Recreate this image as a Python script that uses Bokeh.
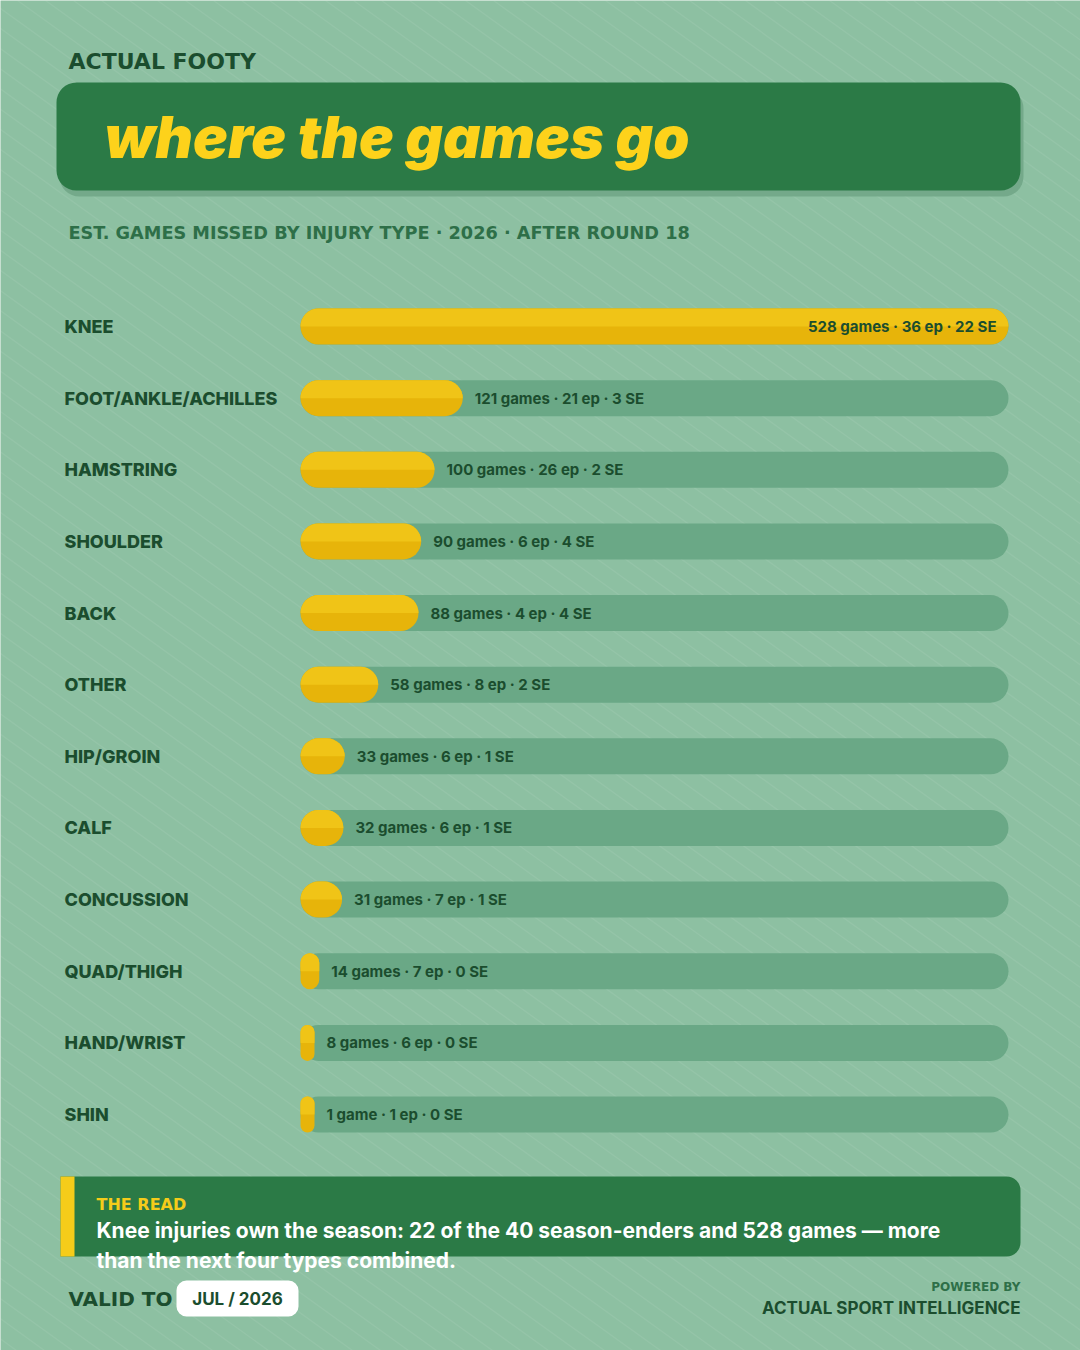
from bokeh.plotting import figure
from bokeh.models import Range1d, Label, ColumnDataSource
from bokeh.core.properties import value
from bokeh.embed import file_html
from bokeh.resources import INLINE

# ---- data -------------------------------------------------------------
injury_types = ["KNEE", "FOOT/ANKLE/ACHILLES", "HAMSTRING", "SHOULDER", "BACK",
                "OTHER", "HIP/GROIN", "CALF", "CONCUSSION", "QUAD/THIGH",
                "HAND/WRIST", "SHIN"]
games_missed = [528, 121, 100, 90, 88, 58, 33, 32, 31, 14, 8, 1]
episodes = [36, 21, 26, 6, 4, 8, 6, 6, 7, 7, 6, 1]
season_enders = [22, 3, 2, 4, 4, 2, 1, 1, 1, 0, 0, 0]

# ---- palette ----------------------------------------------------------
BG = "#8dc0a2"
STRIPE = "#ffffff"
DARK = "#1b4d2e"
MID = "#2e6f48"
BOX_GREEN = "#2b7a46"
SHADOW = "#74a98a"
TRACK = "#6aa886"
GOLD_TOP = "#f0c417"
GOLD_BOTTOM = "#e7b40a"
TITLE_YELLOW = "#fdd21b"
FONT = "Inter"
HEAVY = "Inter ExtraBold, Inter"
WIDE = "DejaVu Sans"   # wider face for the tracked-out caps

# ---- layout (page pixels) ---------------------------------------------
W, H = 1080, 1350
TRACK_LEFT, TRACK_RIGHT = 300, 1008
ROW0, ROW_STEP = 326, 71.64
BAR_PX = 36
MIN_BAR_PX = 14
LABEL_GAP_PX = 12

n = len(injury_types)
top_value = max(games_missed)
games_per_px = top_value / (TRACK_RIGHT - TRACK_LEFT)

p = figure(width=W, height=H, x_range=Range1d(0, W), y_range=Range1d(H, 0),
           output_backend="svg", toolbar_location=None, min_border=0,
           x_axis_type=None, y_axis_type=None,
           background_fill_color=BG, border_fill_color=BG,
           outline_line_color=None)
p.grid.grid_line_color = None

# value scale for the bars and a row scale (top row has the highest index)
p.extra_x_ranges = {"games": Range1d(-TRACK_LEFT * games_per_px,
                                     (W - TRACK_LEFT) * games_per_px)}
row_low = (n - 1) - (H - ROW0) / ROW_STEP
row_high = (n - 1) + ROW0 / ROW_STEP
p.extra_y_ranges = {"rows": Range1d(row_low, row_high)}
bar_h = BAR_PX / ROW_STEP

# ---- background diagonal texture --------------------------------------
slope = 0.72
xs, ys = [], []
c = -int(H / slope) - 40
while c < W + 40:
    xs.append([c, c + H / slope])
    ys.append([0, H])
    c += 28
p.multi_line(xs, ys, line_color=STRIPE, line_alpha=0.07, line_width=1.4)


def label(x, y, text, size, color, font=FONT, style="bold", align="left",
          baseline="middle"):
    p.add_layout(Label(x=x, y=y, text=text, text_font=font,
                       text_font_style=style, text_font_size=size,
                       text_color=color, text_align=align,
                       text_baseline=baseline))


# ---- header ------------------------------------------------------------
label(68, 61, "ACTUAL FOOTY", "22px", DARK, font=WIDE)
p.quad(left=59, right=1023, top=88, bottom=196, fill_color=SHADOW,
       line_color=None, border_radius=20)
p.quad(left=56, right=1020, top=82, bottom=190, fill_color=BOX_GREEN,
       line_color=None, border_radius=20)
label(104, 136, "where the games go", "58px", TITLE_YELLOW,
      font="Inter Black, Inter", style="bold italic")
label(68, 232, "EST. GAMES MISSED BY INJURY TYPE \u00b7 2026 \u00b7 AFTER ROUND 18",
      "17.7px", MID, font=WIDE)

# ---- bars ---------------------------------------------------------------
ypos = [(n - 1) - i for i in range(n)]
min_games = MIN_BAR_PX * games_per_px
shown = [max(g, min_games) for g in games_missed]
labels = []
label_x = []
label_align = []
for g, e, s, b in zip(games_missed, episodes, season_enders, shown):
    unit = "game" if g == 1 else "games"
    labels.append(f"{g} {unit} \u00b7 {e} ep \u00b7 {s} SE")
    if g > 0.7 * top_value:
        label_x.append(b - LABEL_GAP_PX * games_per_px)
        label_align.append("right")
    else:
        label_x.append(b + LABEL_GAP_PX * games_per_px)
        label_align.append("left")

src = ColumnDataSource(dict(
    y=ypos,
    y_upper=[y + bar_h / 4 for y in ypos],
    name=injury_types,
    games=games_missed,
    shown=shown,
    track=[top_value] * n,
    label=labels,
    label_x=label_x,
    align=label_align,
))

p.hbar(y="y", left=0, right="track", height=bar_h, source=src,
       x_range_name="games", y_range_name="rows",
       fill_color=TRACK, line_color=None, border_radius=18)
p.hbar(y="y", left=0, right="shown", height=bar_h, source=src,
       x_range_name="games", y_range_name="rows",
       fill_color=GOLD_BOTTOM, line_color=None, border_radius=18)
p.hbar(y="y_upper", left=0, right="shown", height=bar_h / 2, source=src,
       x_range_name="games", y_range_name="rows",
       fill_color=GOLD_TOP, line_color=None, border_radius=(18, 18, 0, 0))

p.text(x=64, y="y", text="name", source=src, y_range_name="rows",
       text_font=value(HEAVY), text_font_style="bold", text_font_size="18px",
       text_color=DARK, text_baseline="middle", text_align="left")
p.text(x="label_x", y="y", text="label", source=src,
       x_range_name="games", y_range_name="rows",
       text_font=value(FONT), text_font_style="bold", text_font_size="15px",
       text_color=DARK, text_baseline="middle", text_align="align")

# ---- takeaway box -------------------------------------------------------
p.quad(left=60, right=1020, top=1176, bottom=1256, fill_color=BOX_GREEN,
       line_color=None, border_radius=(0, 14, 14, 0))
p.quad(left=60, right=74, top=1176, bottom=1256, fill_color="#f5cc1a",
       line_color=None)
label(96, 1204, "THE READ", "16px", "#f5cc1a", font=WIDE)
label(96, 1230,
      "Knee injuries own the season: 22 of the 40 season-enders and 528 games \u2014 more",
      "21px", "#ffffff")
label(96, 1260, "than the next four types combined.", "21px", "#ffffff")

# ---- footer -------------------------------------------------------------
label(68, 1298, "VALID TO", "20px", DARK, font=WIDE)
p.quad(left=176, right=298, top=1280, bottom=1316, fill_color="#ffffff",
       line_color=None, border_radius=10)
label(237, 1298, "JUL / 2026", "17px", DARK, align="center")
label(1020, 1286, "POWERED BY", "12px", MID, font=WIDE, align="right")
label(1020, 1307, "ACTUAL SPORT INTELLIGENCE", "17px", DARK, align="right")

open("out.html", "w").write(file_html(p, INLINE))
